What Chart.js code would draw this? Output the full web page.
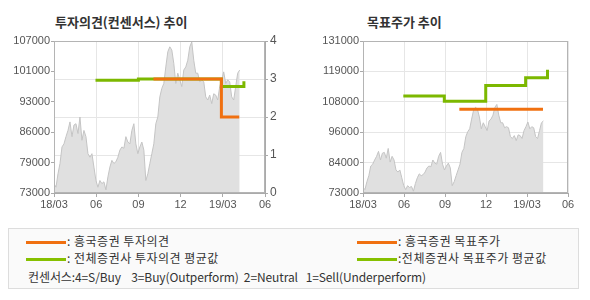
<!DOCTYPE html>
<html>
<head>
<meta charset="utf-8">
<script src="https://cdn.jsdelivr.net/npm/chart.js@4.4.0/dist/chart.umd.min.js"></script>
<style>
  body { margin:0; width:590px; height:300px; background:#fff; position:relative; overflow:hidden; font-family:"Noto Sans CJK KR", sans-serif; }
  .title { position:absolute; top:12px; font-size:13px; font-weight:bold; color:#333; }
  canvas { position:absolute; top:0; }
  .legend { position:absolute; left:8px; top:228px; width:569px; height:59px; border:1px solid #ddd; background:#fafafa; }
  .sw { position:absolute; height:3px; }
  .lt { position:absolute; font-size:12px; color:#333; line-height:14px; white-space:pre; letter-spacing:0.5px; }
  .note { position:absolute; left:19px; top:41px; font-size:12px; color:#333; white-space:pre; line-height:14px; letter-spacing:-0.1px; }
</style>
</head>
<body>
<div class="title" style="left:55px">투자의견(컨센서스) 추이</div>
<div class="title" style="left:367px">목표주가 추이</div>
<canvas id="opinionChart" width="295" height="220" style="left:0"></canvas>
<canvas id="targetChart" width="295" height="220" style="left:295px"></canvas>
<div class="legend">
  <div class="sw" style="left:17px;top:12px;width:40px;background:#f07010"></div>
  <div class="lt" style="left:58px;top:5px">: 흥국증권 투자의견</div>
  <div class="sw" style="left:17px;top:29px;width:40px;background:#86c000"></div>
  <div class="lt" style="left:58px;top:22px">: 전체증권사 투자의견 평균값</div>
  <div class="sw" style="left:348px;top:12px;width:40px;background:#f07010"></div>
  <div class="lt" style="left:389px;top:5px">: 흥국증권 목표주가</div>
  <div class="sw" style="left:348px;top:29px;width:40px;background:#86c000"></div>
  <div class="lt" style="left:389px;top:22px">:전체증권사 목표주가 평균값</div>
  <div class="note">컨센서스:4=S/Buy    3=Buy(Outperform)  2=Neutral   1=Sell(Underperform)</div>
</div>
<script>
// x axis in months from 2018/03
const monthLabels = ["18/03","06","09","12","19/03","06"];
const priceStart = 0, priceEnd = 13.2;

// daily close (sampled)
const prices = [75100,74300,77300,79600,83300,84000,85600,87000,88900,85600,88200,88500,86300,90000,84800,87000,85600,81800,81000,81800,
  78800,75800,74300,75800,75100,75500,73700,76600,78800,80300,79600,80000,81000,82600,83300,83000,85600,84400,84000,87000,
  88500,84000,81800,83300,84400,82600,75800,77300,79600,81800,84000,88500,90000,94500,96400,97500,101200,104600,105700,105000,
  102000,97500,99800,98300,96800,100500,101200,102700,105700,106800,102700,99800,99800,97900,98300,97900,94500,93800,94900,93000,
  95200,94900,93800,96800,98300,100100,97500,98300,97900,94500,93800,96800,99800,100500];

// 투자의견
const opinionX = [7.07, 11.9, 13.17];
const opinionY = [3, 2, 2];
const avgOpinionX = [2.95, 6.0, 11.9, 13.5];
const avgOpinionY = [2.97, 3.0, 2.8, 2.94];
const opinionTicks = ["73000","79000","86000","93000","101000","107000"];

// 목표주가
const targetX = [7.05, 13.17];
const targetY = [105000, 105000];
const avgTargetX = [2.95, 5.95, 8.98, 11.9, 13.5];
const avgTargetY = [110000, 108000, 114000, 117000, 120000];
const targetTicks = ["73000","84000","96000","108000","119000","131000"];

const ORANGE = "#f07010", GREEN = "#7cb800";
const pts = (xs, ys) => xs.map((x,i)=>({x, y:ys[i]}));
const pricePts = prices.map((v,i)=>({x: priceStart + i*(priceEnd-priceStart)/(prices.length-1), y:v}));

const frame = {
  id:"frame",
  afterDraw(c){
    const a=c.chartArea, ctx=c.ctx;
    ctx.save();
    ctx.strokeStyle="#b4b4b4"; ctx.lineWidth=1;
    ctx.strokeRect(Math.round(a.left)+0.5, Math.round(a.top)+0.5, Math.round(a.right-a.left)-1, Math.round(a.bottom-a.top)-1);
    ctx.restore();
  }
};

const tickFont = {family:"Liberation Sans", size:11};
function xAxis(){
  return {
    type:"linear", min:0, max:15,
    afterFit: s => { s.height = 27; },
    afterBuildTicks: s => { s.ticks = [0,3,6,9,12,15].map(v=>({value:v})); },
    ticks:{ callback:(v)=>monthLabels[v/3], color:"#555", font:tickFont, padding:1, maxRotation:0 },
    grid:{ color:"#e6e6e6", tickLength:4, tickColor:"#aaa" },
    border:{ color:"#aaa" }
  };
}
function priceDataset(axis){
  return { type:"line", data:pricePts, yAxisID:axis, borderColor:"#c4c4c4", borderWidth:1,
    backgroundColor:"#e0e0e0", fill:"start", pointRadius:0, order:3 };
}
function stepDataset(data, color, axis, order){
  return { type:"line", data, yAxisID:axis, borderColor:color, borderWidth:3, stepped:true,
    fill:false, pointRadius:0, order };
}
const common = { responsive:false, animation:false, events:[],
  plugins:{ legend:{display:false}, tooltip:{enabled:false} } };

new Chart(document.getElementById("opinionChart"), {
  type:"line",
  data:{ datasets:[
    stepDataset(pts(opinionX, opinionY), ORANGE, "yR", 1),
    stepDataset(pts(avgOpinionX, avgOpinionY), GREEN, "yR", 2),
    priceDataset("yL")
  ]},
  options:{ ...common,
    layout:{ padding:{ top:41 } },
    scales:{
      x: xAxis(),
      yL:{ position:"left", min:73000, max:107000,
        afterFit: s => { s.width = 54; },
        afterBuildTicks: s => { s.ticks = opinionTicks.map((t,i)=>({value:73000+i*6800})); },
        ticks:{ callback:(v,i)=>opinionTicks[i], color:"#555", font:tickFont, padding:1 },
        grid:{ drawOnChartArea:false, tickLength:3, tickColor:"#aaa" }, border:{ color:"#aaa" } },
      yR:{ position:"right", min:0, max:4,
        afterFit: s => { s.width = 30; },
        ticks:{ stepSize:1, color:"#555", font:{family:"Liberation Sans", size:12}, padding:2 },
        grid:{ color:"#e6e6e6", tickLength:3, tickColor:"#aaa" }, border:{ color:"#aaa" } }
    }
  },
  plugins:[frame]
});

new Chart(document.getElementById("targetChart"), {
  type:"line",
  data:{ datasets:[
    stepDataset(pts(targetX, targetY), ORANGE, "y", 1),
    stepDataset(pts(avgTargetX, avgTargetY), GREEN, "y", 2),
    priceDataset("y")
  ]},
  options:{ ...common,
    layout:{ padding:{ top:41, right:22 } },
    scales:{
      x: xAxis(),
      y:{ position:"left", min:73000, max:131000,
        afterFit: s => { s.width = 68; },
        afterBuildTicks: s => { s.ticks = targetTicks.map((t,i)=>({value:73000+i*11600})); },
        ticks:{ callback:(v,i)=>targetTicks[i], color:"#555", font:tickFont, padding:1 },
        grid:{ color:"#e6e6e6", tickLength:3, tickColor:"#aaa" }, border:{ color:"#aaa" } }
    }
  },
  plugins:[frame]
});
</script>
</body>
</html>
